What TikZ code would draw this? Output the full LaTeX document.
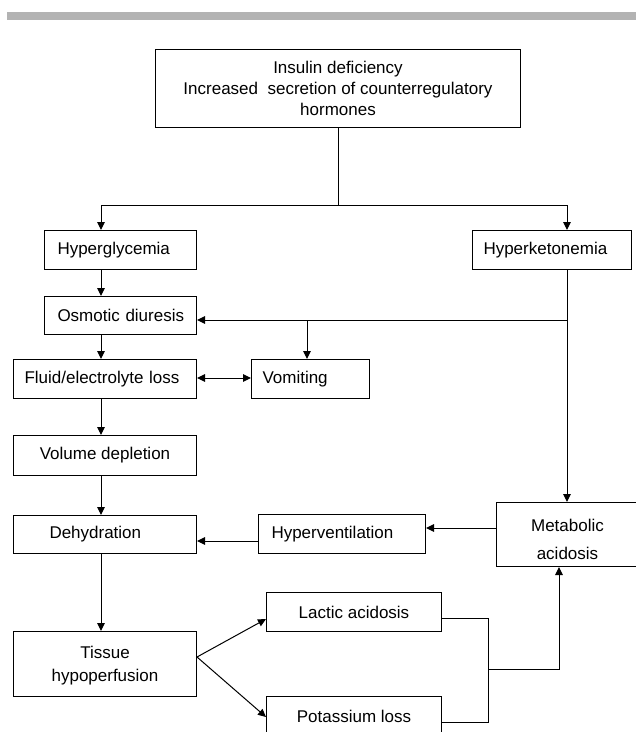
\documentclass[tikz,border=0pt]{standalone}
\usepackage{fontspec}
\setmainfont{Liberation Sans}
\usetikzlibrary{arrows.meta}
\definecolor{rulegray}{RGB}{179,179,179}
\begin{document}
\begin{tikzpicture}[x=1pt,y=-1pt,
  every node/.style={font=\fontsize{17}{21}\selectfont},
  box/.style={draw, line width=1pt, anchor=north west, inner ysep=0pt},
  leftbox/.style 2 args={box, align=left, inner xsep=#1, text width=#2},
  midbox/.style={box, align=center, inner xsep=0pt},
  link/.style={line width=1pt},
  arr/.style={link, -{Triangle[length=8pt,width=7.5pt]}},
  twoarr/.style={link, {Triangle[length=8pt,width=7.5pt]}-{Triangle[length=8pt,width=7.5pt]}},
]
\useasboundingbox (0,0) rectangle (636,732);
% header rule
\fill[rulegray] (7,12) rectangle (636,20);

% boxes
\node[midbox, minimum width=365pt, minimum height=78pt] (top) at (155,49)
  {Insulin deficiency\\Increased~ secretion of counterregulatory\\hormones};
\node[leftbox={13pt}{126pt}, minimum height=39pt] (hg) at (44,230) {\mbox{Hyperglycemia}};
\node[leftbox={11pt}{137pt}, minimum height=39pt] (hk) at (472,230) {\mbox{Hyperketonemia}};
\node[leftbox={13pt}{126pt}, minimum height=38pt] (osm) at (44,296) {\mbox{Osmotic diuresis}};
\node[leftbox={11pt}{161pt}, minimum height=39pt] (fl) at (13,359) {\mbox{Fluid/electrolyte loss}};
\node[leftbox={11pt}{96pt}, minimum height=39pt] (vom) at (251,359) {\mbox{Vomiting}};
\node[midbox, minimum width=183pt, minimum height=40pt] (vol) at (13,435) {Volume depletion};
\node[leftbox={36pt}{111pt}, minimum height=38pt] (dh) at (13,515) {\mbox{Dehydration}};
\node[leftbox={13pt}{141pt}, minimum height=39pt] (hv) at (258,514) {\mbox{Hyperventilation}};
\node[midbox, minimum width=142pt, minimum height=64pt,
  font=\fontsize{17}{28}\selectfont] (met) at (496,502) {\rule{0pt}{22pt}Metabolic\\acidosis};
\node[midbox, minimum width=183pt, minimum height=65pt,
  font=\fontsize{17}{23}\selectfont] (tis) at (13,631) {\rule{0pt}{16pt}Tissue\\hypoperfusion};
\node[midbox, minimum width=175pt, minimum height=39pt] (lac) at (266,592) {Lactic acidosis};
\node[midbox, minimum width=175pt, minimum height=39pt] (pot) at (266,696) {Potassium loss};

% reference columns and rows for connector routing
\coordinate (colL) at (101,0);
\coordinate (colR) at (567,0);
\coordinate (colM) at (559,0);
\coordinate (rowA) at (0,205);
\coordinate (kj) at (567,320);
\coordinate (vj) at (307,320);
\coordinate (rowF) at (0,378);
\coordinate (rowM) at (0,528);
\coordinate (rowD) at (0,541);
\coordinate (rowT) at (0,657);
\coordinate (rowLa) at (0,619);
\coordinate (rowPa) at (0,717);
\coordinate (rowLb) at (0,618);
\coordinate (rowPb) at (0,722);
\coordinate (jx) at (488,669);

% connectors
\draw[link] (top.south) -- (top.south |- rowA);
\draw[arr] (top.south |- rowA) -| (hg.north -| colL);
\draw[arr] (top.south |- rowA) -| (hk.north -| colR);
\draw[arr] (hg.south -| colL) -- (osm.north -| colL);
\draw[arr] (osm.south -| colL) -- (fl.north -| colL);
\draw[arr] (fl.south -| colL) -- (vol.north -| colL);
\draw[arr] (vol.south -| colL) -- (dh.north -| colL);
\draw[arr] (dh.south -| colL) -- (tis.north -| colL);
\draw[arr] (hk.south -| colR) -- (met.north -| colR);
\draw[arr] (kj) -- (osm.east |- kj);
\draw[arr] (vj) -- (vom.north -| vj);
\draw[twoarr] (fl.east |- rowF) -- (vom.west |- rowF);
\draw[arr] (met.west |- rowM) -- (hv.east |- rowM);
\draw[arr] (hv.west |- rowD) -- (dh.east |- rowD);
\draw[arr] (tis.east |- rowT) -- (lac.west |- rowLa);
\draw[arr] (tis.east |- rowT) -- (pot.west |- rowPa);
\draw[link] (lac.east |- rowLb) -| (jx |- rowPb) -- (pot.east |- rowPb);
\draw[arr] (jx) -| (met.south -| colM);
\end{tikzpicture}
\end{document}
